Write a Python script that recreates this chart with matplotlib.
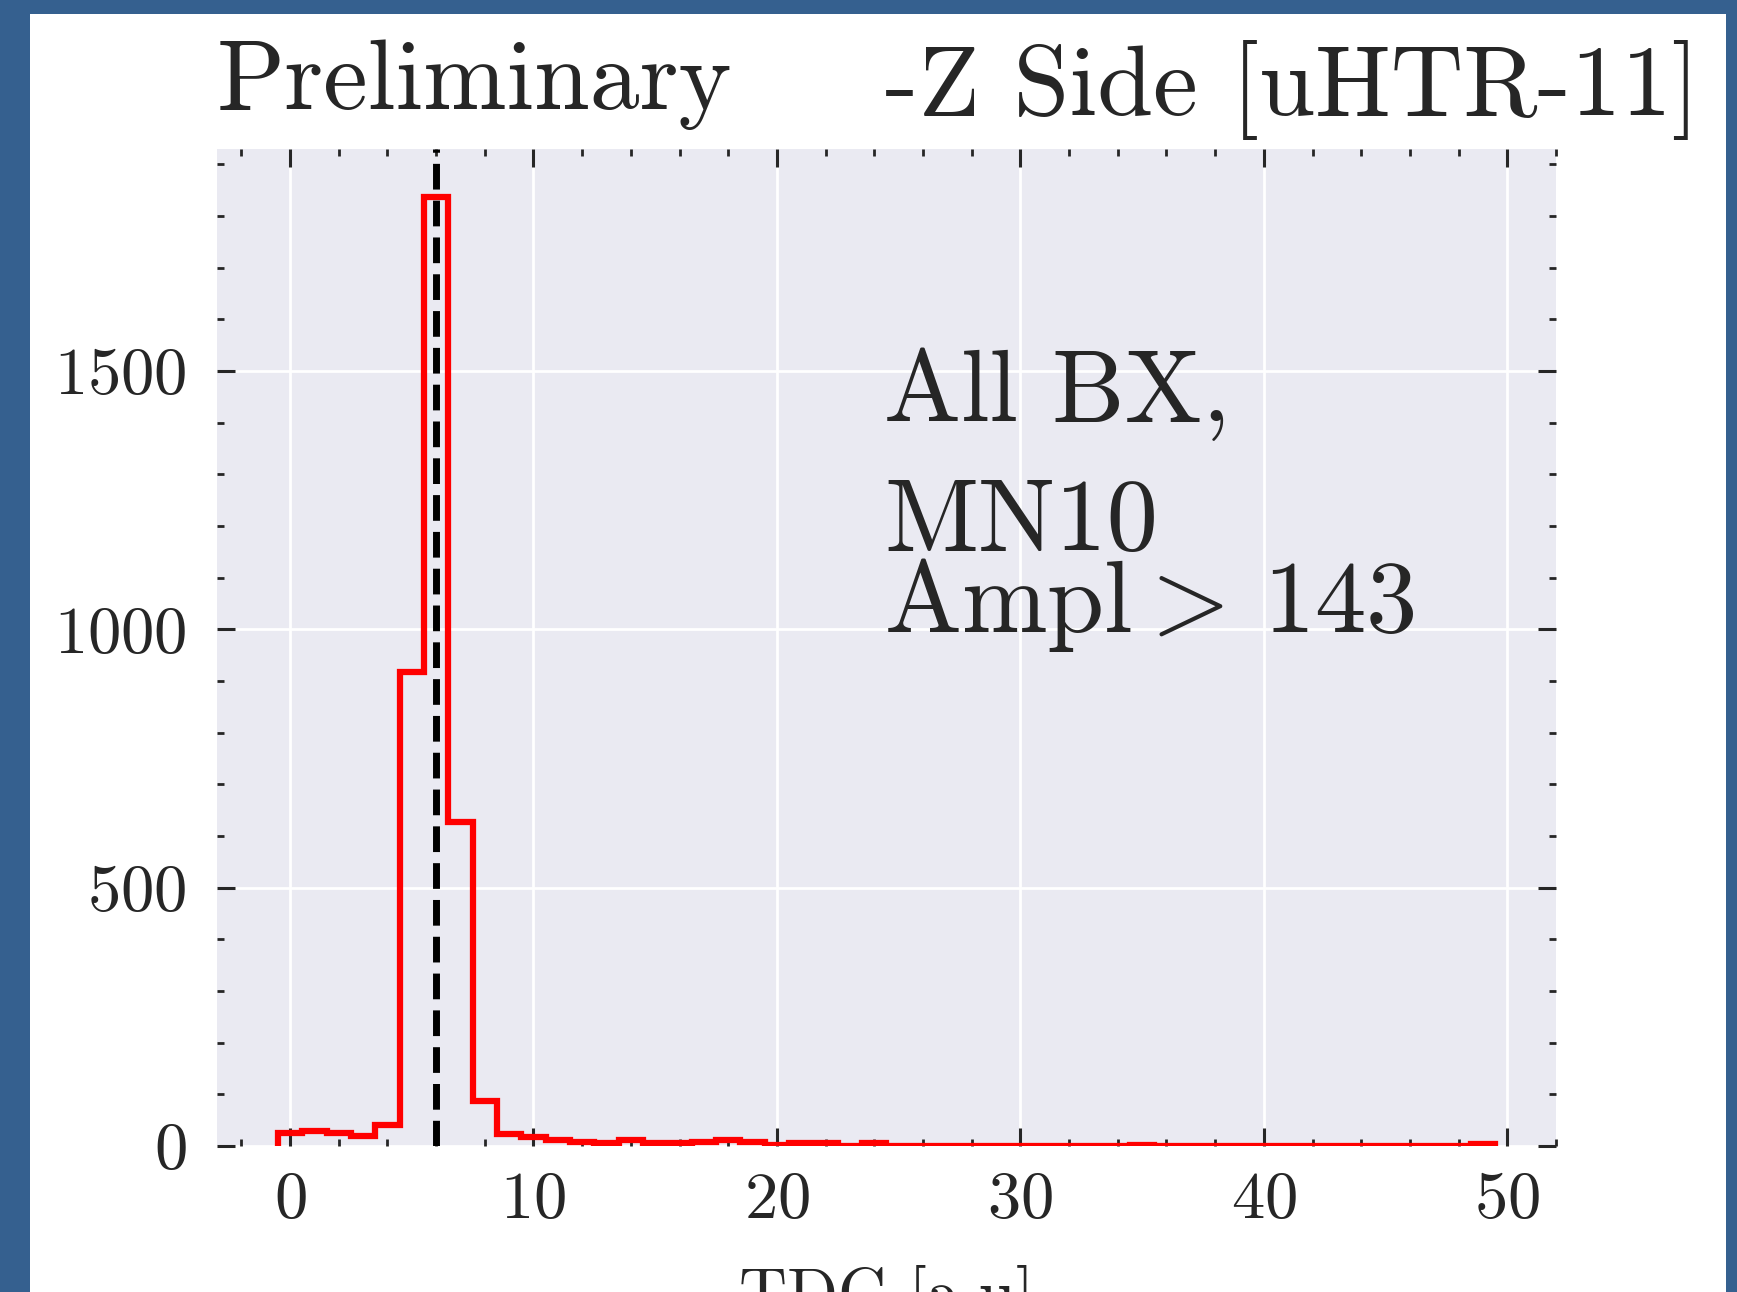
import numpy as np
import matplotlib
matplotlib.use('Agg')
import matplotlib.pyplot as plt
from matplotlib.patches import Rectangle
from matplotlib.ticker import MultipleLocator

# TDC histogram, one bin per TDC count (0..49)
tdc_bins = np.arange(0, 50)
tdc_counts = [26, 29, 25, 20, 41, 918, 1838, 628, 88, 23,
              18, 11, 8, 5, 11, 5, 5, 8, 11, 8,
              1, 5, 5, 0, 5, 0, 0, 0, 0, 0,
              0, 0, 0, 0, 0, 2, 0, 0, 0, 0,
              0, 0, 0, 0, 0, 0, 0, 0, 0, 4]
tdc_cut = 6
x_major = [0, 10, 20, 30, 40, 50]
y_major = [0, 500, 1000, 1500]

title_left = 'Preliminary'
title_right = '-Z Side [uHTR-11]'
info_lines = ['All BX,', 'MN10', r'$\mathrm{Ampl} > \,143$']
info_y = [1403, 1153, 995]
x_label = 'TDC [a.u]'

plt.rcParams['font.family'] = 'cmr10'
plt.rcParams['mathtext.fontset'] = 'cm'
plt.rcParams['axes.formatter.use_mathtext'] = True

W, H = 1737, 1292
fig = plt.figure(figsize=(W / 100, H / 100), dpi=100, facecolor='#35608f')
fig.add_artist(Rectangle((30 / W, 0), (1726 - 30) / W, (H - 14) / H,
                         transform=fig.transFigure, facecolor='white',
                         edgecolor='none', zorder=-1))

ax = fig.add_axes([217 / W, 1 - 1146 / H, (1556 - 217) / W, (1146 - 149) / H])
ax.set_facecolor('#EAEAF2')
for s in ax.spines.values():
    s.set_visible(False)

# grid drawn by hand so it sits under the histogram while ticks stay on top
for xv in x_major:
    ax.axvline(xv, color='white', lw=2, zorder=0.6)
for yv in y_major:
    ax.axhline(yv, color='white', lw=2, zorder=0.6)

edges = np.append(tdc_bins - 0.5, tdc_bins[-1] + 0.5)
ax.hist(tdc_bins, bins=edges, weights=tdc_counts, histtype='step',
        color='red', lw=4.5, zorder=2)
ax.axvline(tdc_cut, color='black', ls='--', lw=5, zorder=2.2)

ax.set_xlim(-3, 52)
ax.set_ylim(0, 1930)
ax.xaxis.set_major_locator(MultipleLocator(10))
ax.xaxis.set_minor_locator(MultipleLocator(2))
ax.yaxis.set_major_locator(MultipleLocator(500))
ax.yaxis.set_minor_locator(MultipleLocator(100))

ax.tick_params(which='both', direction='in', top=True, right=True,
               color='#262626', labelcolor='#262626')
ax.tick_params(which='major', length=13, width=2.2, labelsize=48)
ax.tick_params(which='minor', length=5, width=2)
ax.tick_params(axis='x', which='major', pad=18)
ax.tick_params(axis='y', which='major', pad=22)

ax.set_xlabel(x_label, fontsize=48, labelpad=25, color='#262626')

ax.text(0, 1.040, title_left, transform=ax.transAxes, fontsize=72,
        ha='left', va='baseline', color='#262626')
ax.text(1.107, 1.034, title_right, transform=ax.transAxes, fontsize=72.5,
        ha='right', va='baseline', color='#262626')
for line, yv in zip(info_lines, info_y):
    ax.text(24.4, yv, line, fontsize=74, ha='left', va='baseline', color='#262626')

fig.savefig('out.png', dpi=100, facecolor=fig.get_facecolor())
